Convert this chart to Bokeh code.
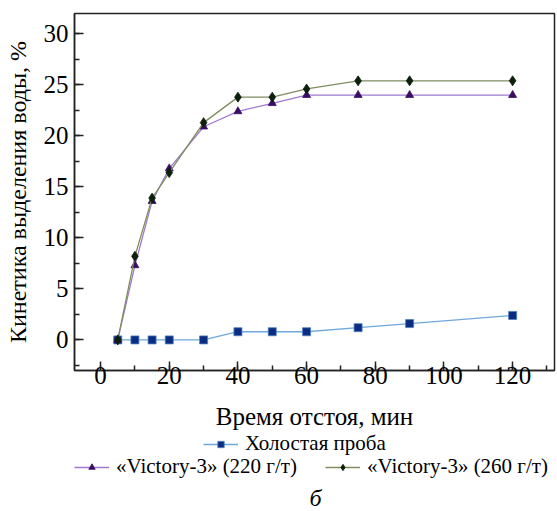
from bokeh.plotting import figure
from bokeh.layouts import column
from bokeh.models import Legend, LegendItem, SingleIntervalTicker, Range1d, Label
from bokeh.embed import file_html
from bokeh.resources import INLINE

# Settling time, min
t = [5, 10, 15, 20, 30, 40, 50, 60, 75, 90, 120]
# Water separation kinetics, %
blank = [0, 0, 0, 0, 0, 0.8, 0.8, 0.8, 1.2, 1.6, 2.4]
v220 = [0, 7.3, 13.6, 16.8, 20.9, 22.4, 23.2, 24.0, 24.0, 24.0, 24.0]
v260 = [0, 8.2, 13.9, 16.4, 21.3, 23.8, 23.8, 24.6, 25.4, 25.4, 25.4]

names = ["Холостая проба", "«Victory-3» (220 г/т)", "«Victory-3» (260 г/т)"]

FONT = "Liberation Serif"
NAN = float("nan")

# series styles: (line colour, marker, marker size, fill, marker outline)
styles = [
    ("#6fa8dc", "square", 8, "#0b2c80", "#4a7fc0"),
    ("#a07ad0", "triangle", 8, "#3a0c66", "#3a0c66"),
    ("#7f8e5e", "diamond", 10, "#0c1f0c", "#0c1f0c"),
]
legend_marker_sizes = [6, 6, 7]

p = figure(width=557, height=432, output_backend="svg", toolbar_location=None,
           x_range=Range1d(-7.6, 132.2), y_range=Range1d(-3, 32),
           min_border_left=74, min_border_right=3, min_border_top=13,
           min_border_bottom=62)
p.background_fill_color = "white"
p.border_fill_color = "white"
p.outline_line_color = "#222222"
p.outline_line_width = 1.5
p.xgrid.visible = False
p.ygrid.visible = False

p.xaxis.ticker = SingleIntervalTicker(interval=20, num_minor_ticks=2)
p.yaxis.ticker = SingleIntervalTicker(interval=5, num_minor_ticks=2)

for ax in (p.xaxis, p.yaxis):
    ax.axis_line_color = "#222222"
    ax.axis_line_width = 1.5
    ax.major_tick_line_color = "#222222"
    ax.minor_tick_line_color = "#222222"
    ax.major_tick_line_width = 1.5
    ax.minor_tick_line_width = 1.5
    ax.major_tick_in = 9
    ax.major_tick_out = 0
    ax.minor_tick_in = 5
    ax.minor_tick_out = 0
    ax.major_label_text_font = FONT
    ax.major_label_text_font_size = "25px"
    ax.major_label_text_color = "black"
    ax.axis_label_text_font = FONT
    ax.axis_label_text_font_style = "normal"
    ax.axis_label_text_color = "black"

p.xaxis.axis_label = "Время отстоя, мин"
p.yaxis.axis_label = "Кинетика выделения воды, %"
p.xaxis.axis_label_text_font_size = "25px"
p.yaxis.axis_label_text_font_size = "24px"
p.xaxis.major_label_standoff = -4
p.xaxis.axis_label_standoff = 16
p.yaxis.major_label_standoff = 6
p.yaxis.axis_label_standoff = 10

for ys, (lc, mk, ms, fc, mlc) in zip([blank, v220, v260], styles):
    p.line(t, ys, line_color=lc, line_width=1.3)
    p.scatter(t, ys, marker=mk, size=ms, fill_color=fc, line_color=mlc,
              line_width=0.8)

# Legend strip and caption underneath the chart; its frame is aligned with
# the chart's frame by the column layout, so the x range spans page pixels.
q = figure(width=557, height=79, output_backend="svg", toolbar_location=None,
           x_range=Range1d(74, 554), y_range=Range1d(0, 79),
           min_border_left=74, min_border_right=3, min_border_top=0,
           min_border_bottom=0)
q.axis.visible = False
q.xgrid.visible = False
q.ygrid.visible = False
q.outline_line_color = None
q.background_fill_color = "white"
q.border_fill_color = "white"

items = []
for name, (lc, mk, ms, fc, mlc), lms in zip(names, styles, legend_marker_sizes):
    r_line = q.line([NAN], [NAN], line_color=lc, line_width=1.3)
    r_mark = q.scatter([NAN], [NAN], marker=mk, size=lms, fill_color=fc,
                       line_color=mlc, line_width=0.8)
    items.append(LegendItem(label=name, renderers=[r_line, r_mark]))

def make_legend(its, loc):
    return Legend(items=its, orientation="horizontal", location=loc,
                  border_line_color=None, background_fill_alpha=0,
                  padding=0, margin=0, spacing=28, label_standoff=7,
                  glyph_width=35, glyph_height=16, label_height=16,
                  label_text_font=FONT, label_text_font_size="21px",
                  label_text_color="black")

q.add_layout(make_legend(items[:1], (129, 55)))
q.add_layout(make_legend(items[1:], (0, 32)))

q.add_layout(Label(x=315, y=14, text="б", text_font=FONT,
                   text_font_style="italic", text_font_size="24px",
                   text_color="black", text_align="center",
                   text_baseline="middle"))

open("out.html", "w").write(file_html(column(p, q, spacing=0), INLINE))
